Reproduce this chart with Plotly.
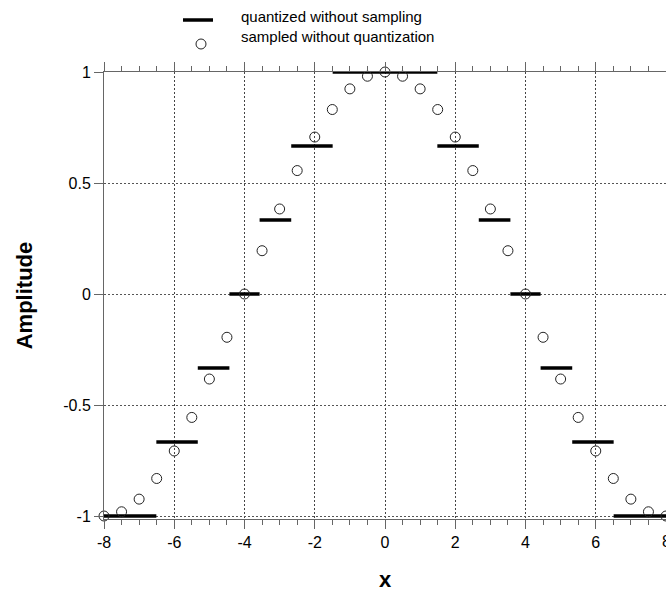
import plotly.graph_objects as go

# ---- data ----
sample_x = [-8, -7.5, -7, -6.5, -6, -5.5, -5, -4.5, -4, -3.5, -3, -2.5, -2, -1.5, -1, -0.5,
            0, 0.5, 1, 1.5, 2, 2.5, 3, 3.5, 4, 4.5, 5, 5.5, 6, 6.5, 7, 7.5, 8]
sample_y = [-1.0, -0.981, -0.924, -0.831, -0.707, -0.556, -0.383, -0.195, 0.0, 0.195, 0.383,
            0.556, 0.707, 0.831, 0.924, 0.981, 1.0, 0.981, 0.924, 0.831, 0.707, 0.556, 0.383,
            0.195, 0.0, -0.195, -0.383, -0.556, -0.707, -0.831, -0.924, -0.981, -1.0]

quant_start = [-8, -6.51, -5.33, -4.43, -3.57, -2.67, -1.49, 1.49, 2.67, 3.57, 4.43, 5.33, 6.51]
quant_end = [-6.51, -5.33, -4.43, -3.57, -2.67, -1.49, 1.49, 2.67, 3.57, 4.43, 5.33, 6.51, 8]
quant_level = [-1, -0.667, -0.333, 0, 0.333, 0.667, 1, 0.667, 0.333, 0, -0.333, -0.667, -1]

x_ticks = [-8, -6, -4, -2, 0, 2, 4, 6, 8]
x_ticktext = ["-8", "-6", "-4", "-2", "0", "2", "4", "6", "8"]
y_ticks = [-1, -0.5, 0, 0.5, 1]
y_ticktext = ["-1", "-0.5", "0", "0.5", "1"]

legend_names = ["quantized without sampling", "sampled without quantization"]

# ---- build ----
qx, qy = [], []
for s, e, l in zip(quant_start, quant_end, quant_level):
    qx += [s, e, None]
    qy += [l, l, None]

FONT = "Liberation Sans, Arial, sans-serif"

fig = go.Figure()
fig.add_trace(go.Scatter(x=qx, y=qy, mode="lines", line=dict(color="black", width=3.5),
                         name=legend_names[0], showlegend=False, cliponaxis=False))
fig.add_trace(go.Scatter(x=sample_x, y=sample_y, mode="markers",
                         marker=dict(symbol="circle-open", size=10, color="#222",
                                     line=dict(width=1, color="#222")),
                         name=legend_names[1], showlegend=False, cliponaxis=False))

W, H = 666, 595
L, R, T, B = 104, 0, 72, 76
pw, ph = W - L - R, H - T - B


def px2paper(px, py):
    return (px - L) / pw, (H - B - py) / ph


# manual legend
lx0, ly = px2paper(183, 20)
lx1, _ = px2paper(213, 20)
fig.add_shape(type="line", xref="paper", yref="paper", x0=lx0, x1=lx1, y0=ly, y1=ly,
              line=dict(color="black", width=3.5))
cx, cy = px2paper(201, 44)
fig.add_shape(type="circle", xref="paper", yref="paper", xsizemode="pixel", ysizemode="pixel",
              xanchor=cx, yanchor=cy, x0=-5, x1=5, y0=-5, y1=5,
              line=dict(color="#222", width=1), fillcolor="rgba(0,0,0,0)")
tx, ty1 = px2paper(239, 16)
_, ty2 = px2paper(239, 37)
for name, tyy in zip(legend_names, [ty1, ty2]):
    fig.add_annotation(xref="paper", yref="paper", x=tx, y=tyy, text=name, showarrow=False,
                       xanchor="left", yanchor="middle", font=dict(family=FONT, size=15, color="black"))

# last x tick label sits on the window edge; drawn as an annotation so it is only clipped
_, lab_y = px2paper(0, 541)
fig.add_annotation(xref="x", yref="paper", x=x_ticks[-1], y=lab_y, text=x_ticktext[-1],
                   showarrow=False, xanchor="center", yanchor="middle",
                   font=dict(family=FONT, size=16, color="black"))
shown_ticktext = x_ticktext[:-1] + [""]

fig.update_layout(
    width=W, height=H, margin=dict(l=L, r=R, t=T, b=B),
    paper_bgcolor="white", plot_bgcolor="white",
    font=dict(family=FONT, color="black"),
    showlegend=False,
)
fig.update_xaxes(
    range=[-8, 8], tickvals=x_ticks, ticktext=shown_ticktext,
    showline=True, linecolor="#666", linewidth=1, mirror="ticks",
    ticks="outside", ticklen=9, tickcolor="#666", tickwidth=1,
    minor=dict(dtick=0.5, ticks="outside", ticklen=5, tickcolor="#666", showgrid=False),
    showgrid=True, gridcolor="#444", griddash="2px,2px", gridwidth=1,
    zeroline=False, tickfont=dict(size=16),
    title=dict(text="<b>x</b>", font=dict(size=22), standoff=21),
)
fig.update_yaxes(
    range=[-1.0135, 1.0], tickvals=y_ticks, ticktext=y_ticktext,
    showline=True, linecolor="#666", linewidth=1,
    ticks="outside", ticklen=9, tickcolor="#666", tickwidth=1,
    showgrid=True, gridcolor="#555", griddash="2px,2px", gridwidth=1,
    zeroline=False, tickfont=dict(size=16),
    title=dict(text="<b>Amplitude</b>", font=dict(size=22), standoff=24),
)

fig.write_html("out.html")
